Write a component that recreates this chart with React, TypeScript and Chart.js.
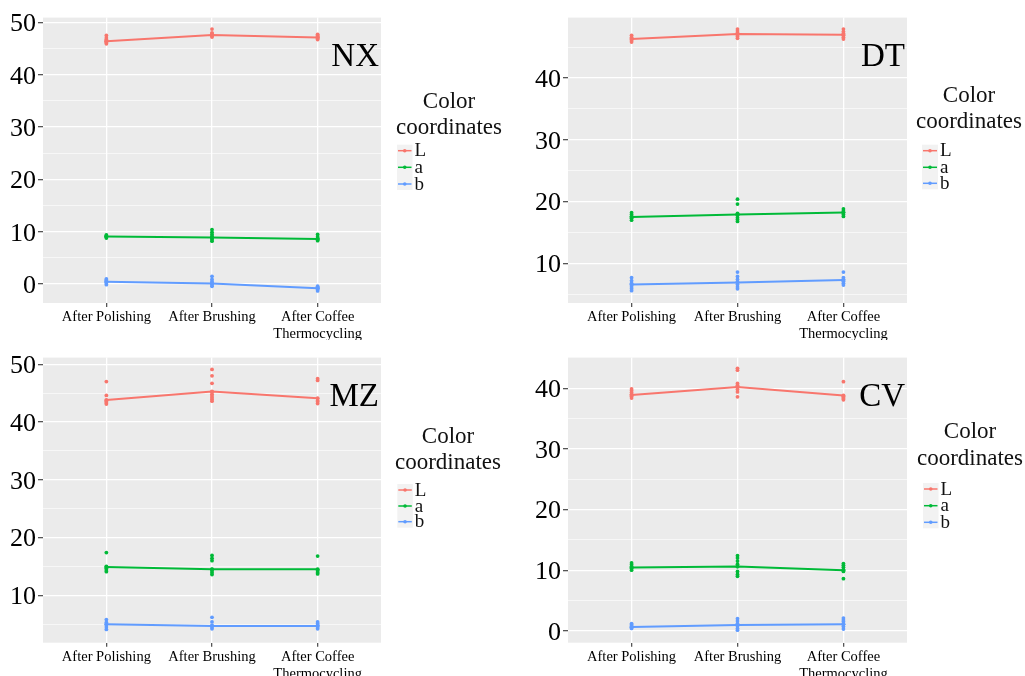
import React, { useEffect, useRef } from "react";
import { Chart, registerables } from "chart.js";
Chart.register(...registerables);

const FONT = "'Liberation Serif', 'Times New Roman', Times, serif";

// ---- shared data ----
const categories = ["After Polishing", "After Brushing", "After Coffee\nThermocycling"];
const seriesNames = ["L", "a", "b"];
const seriesColors = ["#F8766D", "#00BA38", "#619CFF"];
const legendTitle = ["Color", "coordinates"];

// ---- NX ----
const nxMeanL = [46.4, 47.6, 47.1];
const nxMeanA = [9.1, 8.9, 8.6];
const nxMeanB = [0.45, 0.13, -0.76];
const nxPtsL = [[45.9, 46.1, 46.3, 46.5, 46.7, 47.0, 47.5], [47.2, 47.4, 47.6, 47.8, 48.0, 48.7], [46.7, 46.9, 47.1, 47.3, 47.5, 47.7]];
const nxPtsA = [[8.8, 9.0, 9.1, 9.2, 9.4], [8.2, 8.5, 8.8, 9.1, 9.5, 9.9, 10.4], [8.3, 8.5, 8.7, 9.0, 9.5]];
const nxPtsB = [[-0.1, 0.2, 0.4, 0.6, 0.8, 1.0], [-0.4, -0.1, 0.2, 0.5, 0.9, 1.5], [-1.3, -1.0, -0.8, -0.6, -0.4]];
const nxYTicks = [0, 10, 20, 30, 40, 50];
const nxYMinor = [5, 15, 25, 35, 45];

// ---- DT ----
const dtMeanL = [46.3, 47.1, 47.0];
const dtMeanA = [17.5, 17.9, 18.25];
const dtMeanB = [6.6, 6.9, 7.3];
const dtPtsL = [[45.8, 46.0, 46.3, 46.6, 46.9], [46.4, 46.7, 47.0, 47.3, 47.6, 47.9], [46.3, 46.6, 46.9, 47.2, 47.5, 47.9]];
const dtPtsA = [[17.0, 17.3, 17.6, 17.9, 18.2], [16.8, 17.1, 17.4, 17.8, 18.1, 19.6, 20.4], [17.6, 17.9, 18.2, 18.5, 18.8]];
const dtPtsB = [[5.6, 5.9, 6.2, 6.5, 6.8, 7.2, 7.7], [5.9, 6.2, 6.6, 7.0, 7.4, 7.9, 8.6], [6.5, 6.8, 7.1, 7.4, 7.7, 8.6]];
const dtYTicks = [10, 20, 30, 40];
const dtYMinor = [5, 15, 25, 35, 45];

// ---- MZ ----
const mzMeanL = [43.8, 45.3, 44.1];
const mzMeanA = [14.9, 14.5, 14.5];
const mzMeanB = [5.0, 4.7, 4.7];
const mzPtsL = [[43.1, 43.3, 43.5, 43.7, 44.6, 47.0], [43.6, 43.9, 44.2, 44.5, 44.8, 45.2, 46.7, 48.0, 49.1], [43.2, 43.5, 43.7, 47.2, 47.5]];
const mzPtsA = [[14.1, 14.4, 14.7, 15.0, 17.4], [13.6, 13.9, 14.2, 14.5, 16.0, 16.4, 16.9], [13.7, 13.9, 14.2, 14.4, 16.8]];
const mzPtsB = [[4.1, 4.5, 4.9, 5.3, 5.8], [4.2, 4.5, 4.8, 5.4, 6.2], [4.2, 4.5, 4.8, 5.1, 5.4]];
const mzYTicks = [10, 20, 30, 40, 50];
const mzYMinor = [5, 15, 25, 35, 45];

// ---- CV ----
const cvMeanL = [38.9, 40.2, 38.8];
const cvMeanA = [10.45, 10.6, 10.0];
const cvMeanB = [0.65, 0.95, 1.1];
const cvPtsL = [[38.4, 38.7, 39.0, 39.3, 39.6, 39.9], [38.6, 39.4, 39.8, 40.2, 40.5, 40.8, 43.0, 43.3], [38.1, 38.3, 38.5, 38.7, 41.1]];
const cvPtsA = [[10.0, 10.3, 10.6, 10.9, 11.2], [9.0, 9.3, 9.8, 10.6, 11.0, 11.5, 12.0, 12.4], [8.6, 9.8, 10.1, 10.5, 10.8, 11.1]];
const cvPtsB = [[0.4, 0.6, 0.8, 1.0, 1.2], [0.1, 0.4, 0.8, 1.2, 1.6, 2.0], [0.3, 0.7, 1.1, 1.5, 1.8, 2.1]];
const cvYTicks = [0, 10, 20, 30, 40];
const cvYMinor = [5, 15, 25, 35];

type Panel = {
  label: string;
  means: number[][];
  points: number[][][];
  yMin: number;
  yMax: number;
  yTicks: number[];
  yMinor: number[];
  left: number;
  top: number;
  w: number;
  h: number;
  padTop: number;
  padRight: number;
  yW: number;
  xH: number;
  lg: { cx: number; t1: number; t2: number; keyX: number; keyW: number; keys: number[] };
};

const panels: Panel[] = [
  {
    label: "NX", means: [nxMeanL, nxMeanA, nxMeanB], points: [nxPtsL, nxPtsA, nxPtsB],
    yMin: -3.6, yMax: 50.9, yTicks: nxYTicks, yMinor: nxYMinor,
    left: 0, top: 0, w: 512, h: 340, padTop: 16, padRight: 131, yW: 43, xH: 37,
    lg: { cx: 449, t1: 108, t2: 134, keyX: 397, keyW: 15.5, keys: [150.7, 167.3, 184] },
  },
  {
    label: "DT", means: [dtMeanL, dtMeanA, dtMeanB], points: [dtPtsL, dtPtsA, dtPtsB],
    yMin: 3.6, yMax: 49.76, yTicks: dtYTicks, yMinor: dtYMinor,
    left: 512, top: 0, w: 513, h: 340, padTop: 16, padRight: 118, yW: 56, xH: 37,
    lg: { cx: 457, t1: 101.7, t2: 128.3, keyX: 410, keyW: 16, keys: [150.7, 167.3, 183.3] },
  },
  {
    label: "MZ", means: [mzMeanL, mzMeanA, mzMeanB], points: [mzPtsL, mzPtsA, mzPtsB],
    yMin: 1.8, yMax: 51.15, yTicks: mzYTicks, yMinor: mzYMinor,
    left: 0, top: 340, w: 512, h: 336, padTop: 15, padRight: 131, yW: 43, xH: 33.3,
    lg: { cx: 448, t1: 102.7, t2: 129.3, keyX: 397.3, keyW: 15.5, keys: [150, 166, 181.7] },
  },
  {
    label: "CV", means: [cvMeanL, cvMeanA, cvMeanB], points: [cvPtsL, cvPtsA, cvPtsB],
    yMin: -1.96, yMax: 45.07, yTicks: cvYTicks, yMinor: cvYMinor,
    left: 512, top: 340, w: 513, h: 336, padTop: 15, padRight: 118, yW: 56, xH: 33.3,
    lg: { cx: 458, t1: 98.3, t2: 125, keyX: 411, keyW: 15.5, keys: [149, 165.7, 182.3] },
  },
];

function makePlugin(p: Panel) {
  return {
    id: "deco" + p.label,
    beforeDraw(chart: any) {
      const { ctx, chartArea: a } = chart;
      ctx.save();
      ctx.fillStyle = "#EBEBEB";
      ctx.fillRect(a.left, a.top, a.right - a.left, a.bottom - a.top);
      ctx.restore();
    },
    afterDraw(chart: any) {
      const { ctx, chartArea: a } = chart;
      ctx.save();
      // panel label
      ctx.fillStyle = "#000";
      ctx.font = `33px ${FONT}`;
      ctx.textAlign = "right";
      ctx.textBaseline = "alphabetic";
      ctx.fillText(p.label, a.right - 2, a.top + 48);
      // legend title
      const lg = p.lg;
      ctx.font = `23px ${FONT}`;
      ctx.textAlign = "center";
      ctx.fillStyle = "#111";
      ctx.fillText(legendTitle[0], lg.cx, lg.t1);
      ctx.fillText(legendTitle[1], lg.cx, lg.t2);
      // keys
      ctx.fillStyle = "#F2F2F2";
      ctx.fillRect(lg.keyX, lg.keys[0] - 6, lg.keyW, lg.keys[2] - lg.keys[0] + 12);
      ctx.font = `19px ${FONT}`;
      ctx.textAlign = "left";
      seriesNames.forEach((name, i) => {
        const y = lg.keys[i];
        ctx.strokeStyle = seriesColors[i];
        ctx.lineWidth = 1.5;
        ctx.beginPath();
        ctx.moveTo(lg.keyX + 1, y);
        ctx.lineTo(lg.keyX + lg.keyW - 1, y);
        ctx.stroke();
        ctx.fillStyle = seriesColors[i];
        ctx.beginPath();
        ctx.arc(lg.keyX + lg.keyW / 2, y, 1.8, 0, Math.PI * 2);
        ctx.fill();
        ctx.fillStyle = "#111";
        ctx.fillText(name, lg.keyX + lg.keyW + 2, y + 5.5);
      });
      ctx.restore();
    },
  };
}

function PanelChart({ p }: { p: Panel }) {
  const ref = useRef<HTMLCanvasElement | null>(null);
  useEffect(() => {
    if (!ref.current) return;
    const datasets: any[] = [];
    seriesNames.forEach((name, si) => {
      const color = seriesColors[si];
      datasets.push({
        label: name + " points",
        data: p.points[si].flatMap((vals, ci) => vals.map((v) => ({ x: ci + 1, y: v }))),
        showLine: false,
        pointRadius: 1.9,
        pointBorderWidth: 0,
        backgroundColor: color,
        borderColor: color,
      });
      datasets.push({
        label: name,
        data: p.means[si].map((v, ci) => ({ x: ci + 1, y: v })),
        showLine: true,
        borderColor: color,
        borderWidth: 2,
        pointRadius: 2,
        pointBorderWidth: 0,
        backgroundColor: color,
        tension: 0,
      });
    });
    const allY = [...p.yTicks, ...p.yMinor].sort((a, b) => a - b);
    const isMajor = (v: number) => p.yTicks.includes(v);
    const chart = new Chart(ref.current, {
      type: "scatter",
      data: { datasets },
      plugins: [makePlugin(p)],
      options: {
        animation: false,
        responsive: false,
        devicePixelRatio: 1,
        events: [],
        layout: { padding: { left: 0, top: p.padTop, right: p.padRight, bottom: 0 } },
        plugins: { legend: { display: false }, tooltip: { enabled: false } },
        scales: {
          x: {
            type: "linear",
            min: 0.4,
            max: 3.6,
            afterBuildTicks: (s: any) => {
              s.ticks = categories.map((_, i) => ({ value: i + 1 }));
            },
            afterFit: (s: any) => {
              s.height = p.xH;
            },
            border: { display: false },
            grid: { color: "#FFFFFF", lineWidth: 1.3, tickLength: 4, tickColor: "#555555" },
            ticks: {
              autoSkip: false,
              maxRotation: 0,
              padding: 2,
              color: "#000",
              font: { family: FONT, size: 14.5, lineHeight: 1.17 },
              callback: (v: any) => categories[Math.round(Number(v)) - 1].split("\n"),
            },
          },
          y: {
            type: "linear",
            min: p.yMin,
            max: p.yMax,
            afterBuildTicks: (s: any) => {
              s.ticks = allY.map((v) => ({ value: v }));
            },
            afterFit: (s: any) => {
              s.width = p.yW;
            },
            border: { display: false },
            grid: {
              color: "#FFFFFF",
              lineWidth: (c: any) => (c.tick && isMajor(c.tick.value) ? 1.3 : 0.6),
              tickLength: 5,
              tickColor: (c: any) => (c.tick && isMajor(c.tick.value) ? "#555555" : "rgba(0,0,0,0)"),
            },
            ticks: {
              autoSkip: false,
              padding: 2,
              labelOffset: 2,
              color: "#000",
              font: { family: FONT, size: 26 },
              callback: (v: any) => (isMajor(Number(v)) ? String(v) : ""),
            },
          },
        },
      } as any,
    });
    return () => chart.destroy();
  }, [p]);
  return (
    <canvas
      ref={ref}
      width={p.w}
      height={p.h}
      style={{ position: "absolute", left: p.left, top: p.top, width: p.w, height: p.h }}
    />
  );
}

export default function App() {
  return (
    <div style={{ position: "absolute", left: 0, top: 0, width: 1025, height: 676, background: "#fff", overflow: "hidden" }}>
      {panels.map((p) => (
        <PanelChart key={p.label} p={p} />
      ))}
    </div>
  );
}
